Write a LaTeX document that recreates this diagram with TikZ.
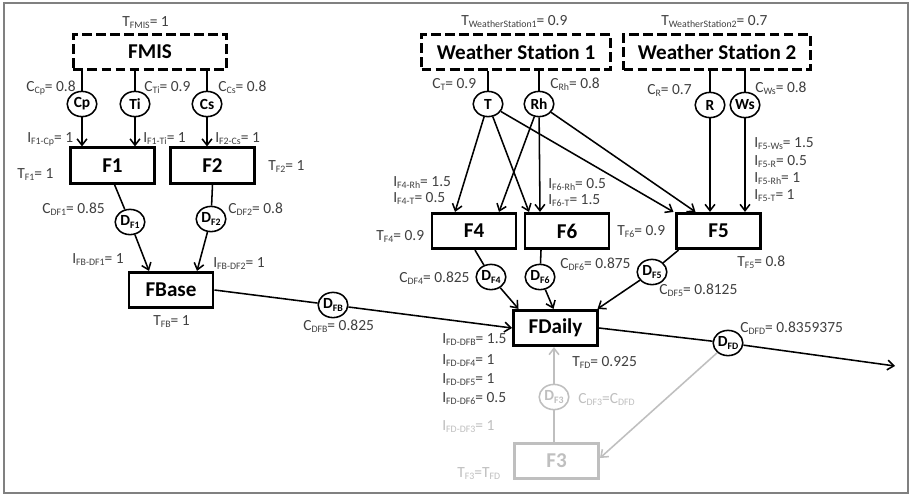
\documentclass[tikz,border=0pt]{standalone}
\usepackage{fontspec}
\setmainfont{Carlito}
\usepackage{tikz}
\usetikzlibrary{calc,shapes.geometric,arrows.meta}
\usepackage{xcolor}

\newcommand{\sbs}[1]{\raisebox{-0.35ex}{\fontsize{7}{8}\selectfont #1}}

\begin{document}
\begin{tikzpicture}[
        x=0.025cm, y=-0.025cm,
        >={Straight Barb[length=4.5pt,width=7pt]},
        box/.style={
            rectangle,
            draw=black,
            line width=2.1pt,
            fill=white,
            minimum width=2.1cm,
            minimum height=0.88cm,
            inner sep=0pt,
            font=\fontsize{15}{18}\selectfont\bfseries
        },
        srcbox/.style={
            box,
            dash pattern=on 7pt off 3pt
        },
        sensor/.style={
            ellipse,
            draw=black,
            line width=1.1pt,
            fill=white,
            minimum width=0.74cm,
            minimum height=0.63cm,
            inner sep=0pt,
            font=\fontsize{11}{13}\selectfont\bfseries
        },
        lbl/.style={
            anchor=base west,
            inner sep=0pt,
            text=black!75,
            font=\fontsize{11}{13}\selectfont
        },
        faded/.style={
            draw=black!25,
            text=black!25
        },
        fadedlbl/.style={
            text=black!25
        },
        link/.style={
            line width=1.1pt
        },
        arrow/.style={
            ->,
            line width=1.1pt
        }
    ]
    % Canvas and frame
    \path[use as bounding box, fill=white] (0,0) rectangle (911,495);
    \draw[black!50, line width=1.4pt] (4,3) rectangle (908,493);

    % Data sources
    \node[srcbox, minimum width=3.83cm] (fmis) at (150,52) {FMIS};
    \node[srcbox, minimum width=4.72cm] (ws1) at (516,52) {Weather Station 1};
    \node[srcbox, minimum width=4.67cm] (ws2) at (717,52) {Weather Station 2};

    % Fusion boxes
    \node[box] (f1) at (112.5,165.5) {F1};
    \node[box] (f2) at (212.5,165.5) {F2};
    \node[box] (fbase) at (171,290) {FBase};
    \node[box] (f4) at (474,231) {F4};
    \node[box] (f6) at (567,231) {F6};
    \node[box] (f5) at (718.5,231) {F5};
    \node[box] (fdaily) at (555.5,328) {FDaily};
    \node[box, faded] (f3) at (556.5,461) {F3};

    % Measured values
    \node[sensor] (cp) at (82,104) {Cp};
    \node[sensor] (ti) at (135,104) {Ti};
    \node[sensor] (cs) at (207,104) {Cs};
    \node[sensor] (t) at (488,104) {T};
    \node[sensor] (rh) at (539,104) {Rh};
    \node[sensor] (r) at (710,105) {R};
    \node[sensor] (ws) at (745,105) {Ws};

    % Derived values
    \node[sensor] (df1) at (130,222) {D\sbs{F1}};
    \node[sensor] (df2) at (211,219) {D\sbs{F2}};
    \node[sensor] (dfb) at (333,305) {D\sbs{FB}};
    \node[sensor] (df4) at (491,277) {D\sbs{F4}};
    \node[sensor] (df6) at (540,277) {D\sbs{F6}};
    \node[sensor] (df5) at (652,272) {D\sbs{F5}};
    \node[sensor] (dfd) at (728,343) {D\sbs{FD}};
    \node[sensor, faded] (df3) at (554,397) {D\sbs{F3}};
    \coordinate (out) at (895,366);

    % Arrows: FMIS -> F1, F2
    \draw[link] (fmis.south -| cp) -- (cp);
    \draw[arrow] (cp) -- (cp |- f1.north);
    \draw[link] (fmis.south -| ti) -- (ti);
    \draw[arrow] (ti) -- (ti |- f1.north);
    \draw[link] (fmis.south -| cs) -- (cs);
    \draw[arrow] (cs) -- (cs |- f2.north);

    % Arrows: Weather Station 1 -> F4, F6, F5
    \draw[link] (ws1.south -| t) -- (t);
    \draw[link] (ws1.south -| rh) -- (rh);
    \draw[arrow] (t) -- ($(f4.north)+(-19,0)$);
    \draw[arrow] (t) -- ($(f6.north)+(-38,0)$);
    \draw[arrow] (t) -- ($(f5.north)+(-45,0)$);
    \draw[arrow] (rh) -- ($(f4.north)+(25,0)$);
    \draw[arrow] (rh) -- ($(f6.north)+(-27,0)$);
    \draw[arrow] (rh) -- ($(f5.north)+(-23,0)$);

    % Arrows: Weather Station 2 -> F5
    \draw[link] (ws2.south -| r) -- (r);
    \draw[arrow] (r) -- (r |- f5.north);
    \draw[link] (ws2.south -| ws) -- (ws);
    \draw[arrow] (ws) -- (ws |- f5.north);

    % Arrows: F1, F2 -> FBase
    \draw[link] ($(f1.south)+(2,0)$) -- (df1);
    \draw[arrow] (df1) -- ($(fbase.north)+(-22,0)$);
    \draw[link] (f2.south) -- (df2);
    \draw[arrow] (df2) -- ($(fbase.north)+(26,0)$);

    % Arrows: FBase, F4, F6, F5 -> FDaily
    \draw[link] (fbase.east) -- (dfb);
    \draw[arrow] (dfb) -- (fdaily.west);
    \draw[link] ($(f4.south)+(1,0)$) -- (df4);
    \draw[arrow] (df4) -- ($(fdaily.north)+(-37,0)$);
    \draw[link] ($(f6.south)+(-26,0)$) -- (df6);
    \draw[arrow] (df6) -- ($(fdaily.north)+(-2,0)$);
    \draw[link] ($(f5.south)+(-40,0)$) -- (df5);
    \draw[arrow] (df5) -- ($(fdaily.north)+(42,0)$);

    % Arrow: FDaily -> output
    \draw[link] (fdaily.east) -- (dfd);
    \draw[arrow] (dfd) -- (out);

    % Feedback through F3 (grey)
    \draw[arrow, faded] (dfd) -- ($(f3.east)+(0,-3)$);
    \draw[link, faded] (f3.north -| df3) -- (df3);
    \draw[arrow, faded] (df3) -- (df3 |- fdaily.south);

    % Labels: FMIS branch
    \node[lbl] (tfmis) at (122,26) {T\sbs{FMIS}= 1};
    \node[lbl] (ccp) at (26,91) {C\sbs{Cp}= 0.8};
    \node[lbl] (cti) at (144,91) {C\sbs{Ti}= 0.9};
    \node[lbl] (ccs) at (218,91) {C\sbs{Cs}= 0.8};
    \node[lbl] (if1cp) at (27,142) {I\sbs{F1-Cp}= 1};
    \node[lbl] (if1ti) at (143,142) {I\sbs{F1-Ti}= 1};
    \node[lbl] (if2cs) at (215,142) {I\sbs{F2-Cs}= 1};
    \node[lbl] (tf1) at (17,178) {T\sbs{F1}= 1};
    \node[lbl] (tf2) at (268,170) {T\sbs{F2}= 1};
    \node[lbl] (cdf1) at (42,213) {C\sbs{DF1}= 0.85};
    \node[lbl] (cdf2) at (228,213) {C\sbs{DF2}= 0.8};
    \node[lbl] (ifbdf1) at (72,263) {I\sbs{FB-DF1}= 1};
    \node[lbl] (ifbdf2) at (213,267) {I\sbs{FB-DF2}= 1};
    \node[lbl] (tfb) at (153,325) {T\sbs{FB}= 1};
    \node[lbl] (cdfb) at (303,330) {C\sbs{DFB}= 0.825};

    % Labels: weather stations
    \node[lbl] (tws1) at (461,25) {T\sbs{WeatherStation1}= 0.9};
    \node[lbl] (ct) at (432,88) {C\sbs{T}= 0.9};
    \node[lbl] (crh) at (550,88) {C\sbs{Rh}= 0.8};
    \node[lbl] (tws2) at (661,25) {T\sbs{WeatherStation2}= 0.7};
    \node[lbl] (cr) at (647,94) {C\sbs{R}= 0.7};
    \node[lbl] (cws) at (755,92) {C\sbs{Ws}= 0.8};

    % Labels: F4, F6, F5
    \node[lbl] (if4rh) at (393,186) {I\sbs{F4-Rh}= 1.5};
    \node[lbl] (if4t) at (393,202) {I\sbs{F4-T}= 0.5};
    \node[lbl] (if6rh) at (548,188) {I\sbs{F6-Rh}= 0.5};
    \node[lbl] (if6t) at (548,204) {I\sbs{F6-T}= 1.5};
    \node[lbl] (if5ws) at (754,147) {I\sbs{F5-Ws}= 1.5};
    \node[lbl] (if5r) at (754,165) {I\sbs{F5-R}= 0.5};
    \node[lbl] (if5rh) at (754,182) {I\sbs{F5-Rh}= 1};
    \node[lbl] (if5t) at (754,199) {I\sbs{F5-T}= 1};
    \node[lbl] (tf4) at (376,240) {T\sbs{F4}= 0.9};
    \node[lbl] (tf6) at (617,235) {T\sbs{F6}= 0.9};
    \node[lbl] (tf5) at (737,266) {T\sbs{F5}= 0.8};
    \node[lbl] (cdf4) at (399,282) {C\sbs{DF4}= 0.825};
    \node[lbl] (cdf6) at (560,268) {C\sbs{DF6}= 0.875};
    \node[lbl] (cdf5) at (659,294) {C\sbs{DF5}= 0.8125};

    % Labels: FDaily
    \node[lbl] (cdfd) at (740,332) {C\sbs{DFD}= 0.8359375};
    \node[lbl] (ifddfb) at (442,343) {I\sbs{FD-DFB}= 1.5};
    \node[lbl] (ifddf4) at (442,364) {I\sbs{FD-DF4}= 1};
    \node[lbl] (ifddf5) at (442,383) {I\sbs{FD-DF5}= 1};
    \node[lbl] (ifddf6) at (442,402) {I\sbs{FD-DF6}= 0.5};
    \node[lbl] (tfd) at (572,366) {T\sbs{FD}= 0.925};

    % Labels: F3 (grey)
    \node[lbl, fadedlbl] (ifddf3) at (442,430) {I\sbs{FD-DF3}= 1};
    \node[lbl, fadedlbl] (cdf3) at (578,403) {C\sbs{DF3}=C\sbs{DFD}};
    \node[lbl, fadedlbl] (tf3) at (457,477) {T\sbs{F3}=T\sbs{FD}};

    \end{tikzpicture}
\end{document}
